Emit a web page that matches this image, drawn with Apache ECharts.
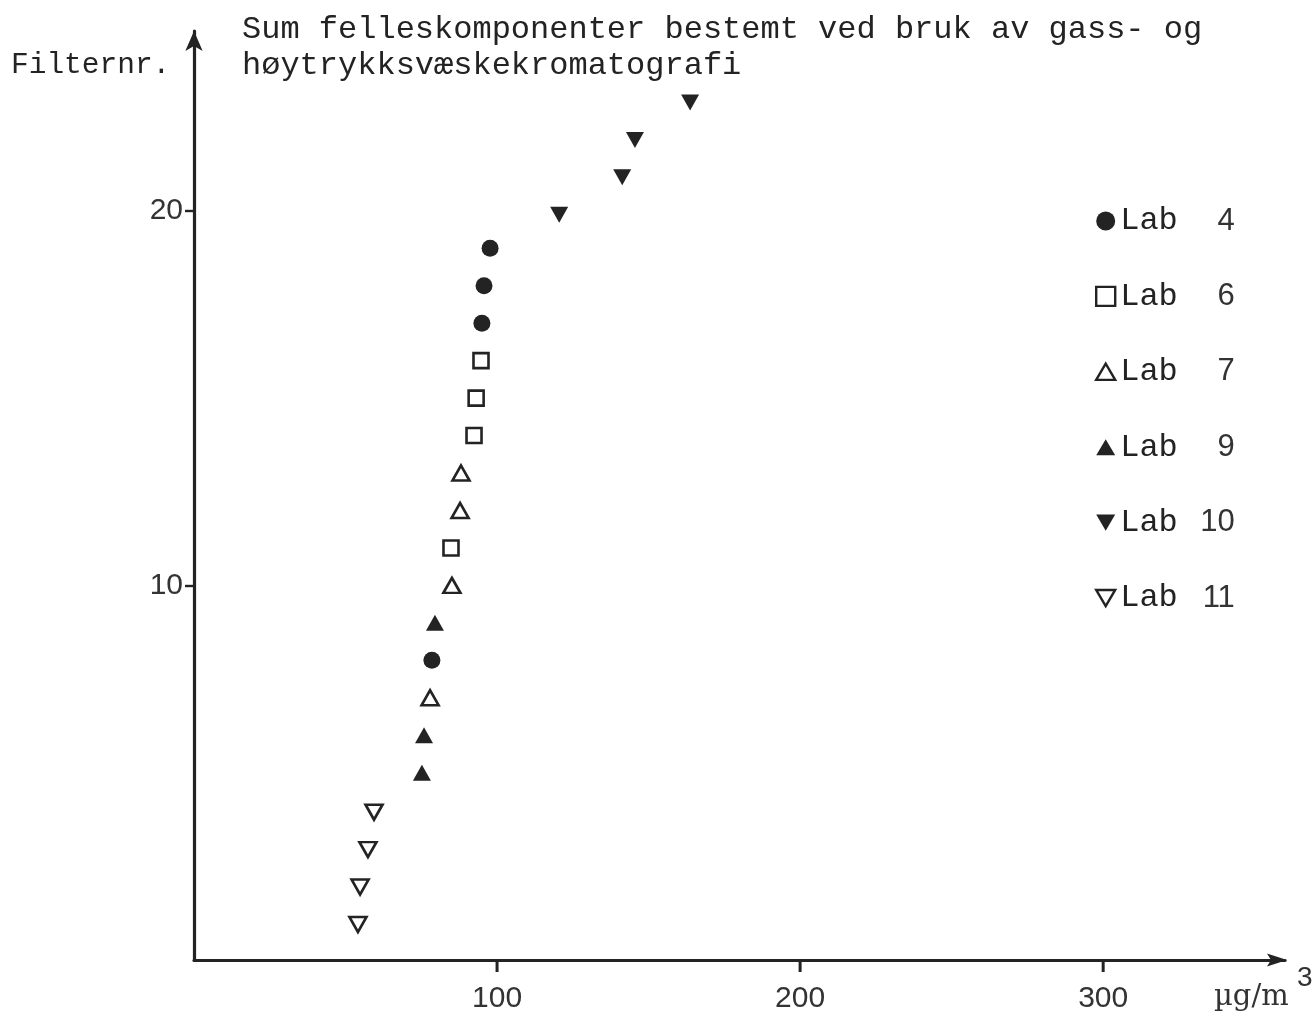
<!DOCTYPE html>
<html>
<head>
<meta charset="utf-8">
<script src="https://cdn.jsdelivr.net/npm/echarts@6/dist/echarts.min.js"></script>
<style>
  html, body { margin: 0; padding: 0; background: #fff; }
  #chart { width: 1316px; height: 1017px; }
</style>
</head>
<body>
<div id="chart"></div>
<script>
// Sum of common components per filter, [µg/m³, filter number]
const lab4 = [[78.5, 8], [95.0, 17], [95.7, 18], [97.7, 19]];
const lab6 = [[84.8, 11], [92.4, 14], [93.1, 15], [94.7, 16]];
const lab7 = [[77.9, 7], [85.1, 10], [87.8, 12], [88.1, 13]];
const lab9 = [[75.2, 5], [75.9, 6], [79.5, 9]];
const lab10 = [[120.5, 20], [141.3, 21], [145.5, 22], [163.7, 23]];
const lab11 = [[54.1, 1], [54.8, 2], [57.4, 3], [59.4, 4]];

const legendNames = ['Lab 4', 'Lab 6', 'Lab 7', 'Lab 9', 'Lab 10', 'Lab 11'];
const xTicks = [100, 200, 300];
const yTicks = [10, 20];
const X_MAX = 360;

const titleLines = ['Sum felleskomponenter bestemt ved bruk av gass- og', 'høytrykksvæskekromatografi'];
const yName = 'Filternr.';
const xUnit = 'µg/m';

const INK = '#232323';
const MONO = '"Liberation Mono", "DejaVu Sans Mono", monospace';
const SANS = '"Liberation Sans", "DejaVu Sans", sans-serif';

const DOWN = 'path://M0,0 L20,0 L10,17 Z';
const UP = 'path://M10,0 L20,17 L0,17 Z';
const RIGHT = 'path://M0,0 L20,6.5 L0,13 L4,6.5 Z';

function series(name, data, symbol, size, hollow, offset) {
  return {
    name: name,
    type: 'scatter',
    data: data,
    symbol: symbol,
    symbolSize: size,
    symbolOffset: offset || [0, 0],
    itemStyle: hollow
      ? { color: '#fff', borderColor: INK, borderWidth: 2.6, opacity: 1 }
      : { color: INK, borderWidth: 0, opacity: 1 },
    emphasis: { disabled: true }
  };
}

const chart = echarts.init(document.getElementById('chart'));
chart.setOption({
  animation: false,
  backgroundColor: '#fff',
  grid: { left: 194, right: 31, top: 31, bottom: 57 },
  xAxis: {
    type: 'value', min: 0, max: X_MAX, interval: 100,
    axisLine: { show: true, lineStyle: { color: INK, width: 3.2 } },
    axisTick: { show: false },
    axisLabel: { customValues: xTicks, color: '#333', fontFamily: SANS, fontSize: 30, margin: 24 },
    splitLine: { show: false }
  },
  yAxis: {
    type: 'value', min: 0, max: 24.8, interval: 10,
    axisLine: { show: true, lineStyle: { color: INK, width: 3.2 }, symbol: ['none', 'arrow'], symbolSize: [13, 20] },
    axisTick: { show: true, customValues: yTicks, length: 9, lineStyle: { color: INK, width: 2.4 } },
    axisLabel: { customValues: yTicks, color: '#333', fontFamily: SANS, fontSize: 30, margin: 11 },
    splitLine: { show: false }
  },
  legend: {
    orient: 'vertical',
    left: 1090, top: 200,
    itemWidth: 19, itemHeight: 19,
    itemGap: 43.4,
    selectedMode: false,
    data: legendNames,
    itemStyle: { borderWidth: 2.4 },
    formatter: function (name) {
      return '{a|Lab}{b|' + name.split(' ')[1] + '}';
    },
    textStyle: {
      color: INK,
      rich: {
        a: { fontFamily: MONO, fontSize: 32, color: INK },
        b: { fontFamily: SANS, fontSize: 31, color: '#333', width: 57, align: 'right' }
      }
    }
  },
  graphic: [
    {
      type: 'text', left: 242, top: 12,
      style: { text: titleLines.join('\n'), font: '32px ' + MONO, fill: INK, lineHeight: 36 }
    },
    {
      type: 'text', left: 11, top: 50,
      style: { text: yName, font: '29.5px ' + MONO, fill: INK }
    },
    {
      type: 'text', left: 1214, top: 983,
      style: { text: xUnit, font: '29px "DejaVu Serif", "Liberation Serif", serif', fill: '#333' }
    },
    {
      type: 'text', left: 1297, top: 964,
      style: { text: '3', font: '28px ' + SANS, fill: '#333' }
    }
  ],
  series: [
    series('Lab 4', lab4, 'circle', 17, false),
    series('Lab 6', lab6, 'rect', 15, true),
    series('Lab 7', lab7, UP, [17, 15], true),
    series('Lab 9', lab9, UP, [18, 16], false),
    series('Lab 10', lab10, DOWN, [18, 16], false, [0, 4]),
    series('Lab 11', lab11, DOWN, [17, 15], true, [0, 2]),
    {
      // short tick marks hanging below the x axis at each labelled value
      type: 'custom',
      data: xTicks.map(v => [v, 0]),
      clip: false,
      z: 100,
      silent: true,
      renderItem: function (params, api) {
        const p = api.coord([api.value(0), api.value(1)]);
        return {
          type: 'line',
          shape: { x1: p[0], y1: p[1], x2: p[0], y2: p[1] + 12 },
          style: { stroke: INK, lineWidth: 3 }
        };
      }
    },
    {
      // arrowhead at the far end of the x axis
      type: 'scatter',
      data: [[X_MAX, 0]],
      symbol: RIGHT,
      symbolSize: [20, 13],
      symbolOffset: [-8, 0],
      clip: false,
      itemStyle: { color: INK, opacity: 1 },
      emphasis: { disabled: true }
    }
  ]
});
</script>
</body>
</html>
